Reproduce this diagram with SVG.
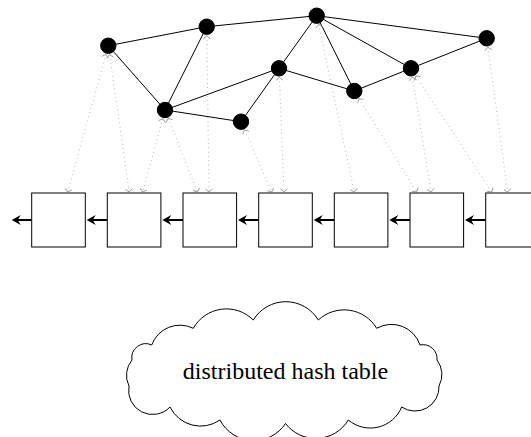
<svg xmlns="http://www.w3.org/2000/svg" width="531" height="437" viewBox="0 0 531 437">
<style>
.edge{stroke:#000;stroke-width:1;fill:none}
.node{fill:#000;stroke:#000}
.box{fill:#fff;stroke:#000;stroke-width:1}
.chain{stroke:#000;stroke-width:2;fill:none;marker-end:url(#thick)}
.map{stroke:#999;stroke-width:1;stroke-dasharray:0.7 3.6;fill:none;marker-start:url(#chev);marker-end:url(#chev)}
.cloud{fill:#fff;stroke:#000;stroke-width:1}
.label{font-family:"Liberation Serif","Times New Roman",serif;font-size:24px;fill:#000}
</style>
<defs>
<marker id="thick" markerUnits="userSpaceOnUse" markerWidth="14" markerHeight="14" refX="0" refY="0" viewBox="-4 -7 14 14" orient="auto" overflow="visible">
<path d="M6,0 L-3,-5 L0,0 L-3,5 Z" fill="#000" stroke="none"/>
</marker>
<marker id="chev" markerUnits="userSpaceOnUse" markerWidth="10" markerHeight="10" refX="0" refY="0" viewBox="-5 -5 10 10" orient="auto-start-reverse" overflow="visible">
<path d="M-3,-3.5 L0,0 L-3,3.5" fill="none" stroke="#999" stroke-width="0.9" stroke-dasharray="none"/>
</marker>
</defs>

<g id="connectors">
<g id="edges">
<line class="edge" x1="108.3" y1="45.7" x2="206.7" y2="26.7"/>
<line class="edge" x1="108.3" y1="45.7" x2="165" y2="110"/>
<line class="edge" x1="206.7" y1="26.7" x2="165" y2="110"/>
<line class="edge" x1="206.7" y1="26.7" x2="316.7" y2="15.7"/>
<line class="edge" x1="316.7" y1="15.7" x2="279" y2="68.3"/>
<line class="edge" x1="316.7" y1="15.7" x2="354.3" y2="91"/>
<line class="edge" x1="316.7" y1="15.7" x2="411" y2="68.3"/>
<line class="edge" x1="316.7" y1="15.7" x2="486.7" y2="38.3"/>
<line class="edge" x1="486.7" y1="38.3" x2="411" y2="68.3"/>
<line class="edge" x1="411" y1="68.3" x2="354.3" y2="91"/>
<line class="edge" x1="354.3" y1="91" x2="279" y2="68.3"/>
<line class="edge" x1="279" y1="68.3" x2="241" y2="121.7"/>
<line class="edge" x1="279" y1="68.3" x2="165" y2="110"/>
<line class="edge" x1="165" y1="110" x2="241" y2="121.7"/>
</g>
<g id="mappings">
<line class="map" x1="105.9" y1="54.4" x2="67.7" y2="192"/>
<line class="map" x1="109.6" y1="54.6" x2="129.3" y2="192"/>
<line class="map" x1="162.7" y1="118.7" x2="142.7" y2="192"/>
<line class="map" x1="168.3" y1="118.4" x2="197.3" y2="192"/>
<line class="map" x1="206.8" y1="35.7" x2="209" y2="192"/>
<line class="map" x1="244.6" y1="130" x2="271.7" y2="192"/>
<line class="map" x1="279.4" y1="77.3" x2="284" y2="192"/>
<line class="map" x1="318.6" y1="24.5" x2="354.3" y2="192"/>
<line class="map" x1="359" y1="98.7" x2="416.7" y2="192"/>
<line class="map" x1="412.4" y1="77.2" x2="431" y2="192"/>
<line class="map" x1="415.9" y1="75.9" x2="491.7" y2="192"/>
<line class="map" x1="487.9" y1="47.2" x2="507.7" y2="192"/>
</g>
<g id="chain">
<line class="chain" x1="31.7" y1="220" x2="17.7" y2="220"/>
<line class="chain" x1="107.3" y1="220" x2="92.7" y2="220"/>
<line class="chain" x1="183" y1="220" x2="168.3" y2="220"/>
<line class="chain" x1="258.7" y1="220" x2="244" y2="220"/>
<line class="chain" x1="334.3" y1="220" x2="319.7" y2="220"/>
<line class="chain" x1="410" y1="220" x2="395.3" y2="220"/>
<line class="chain" x1="485.7" y1="220" x2="471" y2="220"/>
</g>
</g>

<g id="node-a"><circle class="node" cx="108.3" cy="45.7" r="7.7"/></g>
<g id="node-b"><circle class="node" cx="206.7" cy="26.7" r="7.7"/></g>
<g id="node-c"><circle class="node" cx="316.7" cy="15.7" r="7.7"/></g>
<g id="node-d"><circle class="node" cx="486.7" cy="38.3" r="7.7"/></g>
<g id="node-e"><circle class="node" cx="279" cy="68.3" r="7.7"/></g>
<g id="node-f"><circle class="node" cx="411" cy="68.3" r="7.7"/></g>
<g id="node-g"><circle class="node" cx="165" cy="110" r="7.7"/></g>
<g id="node-h"><circle class="node" cx="354.3" cy="91" r="7.7"/></g>
<g id="node-i"><circle class="node" cx="241" cy="121.7" r="7.7"/></g>

<g id="box-1"><rect class="box" x="31.7" y="193" width="53.6" height="54"/></g>
<g id="box-2"><rect class="box" x="107.3" y="193" width="53.6" height="54"/></g>
<g id="box-3"><rect class="box" x="183" y="193" width="53.6" height="54"/></g>
<g id="box-4"><rect class="box" x="258.7" y="193" width="53.6" height="54"/></g>
<g id="box-5"><rect class="box" x="334.3" y="193" width="53.6" height="54"/></g>
<g id="box-6"><rect class="box" x="410" y="193" width="53.6" height="54"/></g>
<g id="box-7"><rect class="box" x="485.7" y="193" width="53.6" height="54"/></g>

<g id="dht">
<path class="cloud" d="M151.7,345 A30,30 0 0 1 193.3,328.3 A38,38 0 0 1 253.3,320 A38,38 0 0 1 318.3,320 A38,38 0 0 1 376.7,328.3 A30,30 0 0 1 420,345 A14,14 0 0 1 437,360 A24,24 0 0 1 439,386 A24,24 0 0 1 401.7,407 A34,34 0 0 1 348.3,420 A38,38 0 0 1 285.5,423.5 A38,38 0 0 1 220,420 A34,34 0 0 1 170,407 A24,24 0 0 1 129,386 A24,24 0 0 1 132,360 A14,14 0 0 1 151.7,345 Z"/>
<text class="label" x="285.5" y="379" text-anchor="middle">distributed hash table</text>
</g>
</svg>
